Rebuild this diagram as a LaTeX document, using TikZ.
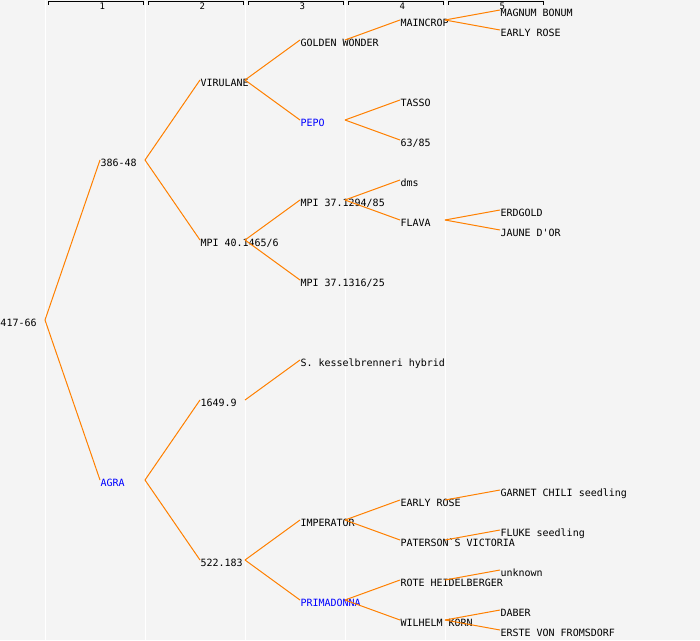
\documentclass[tikz,border=0pt]{standalone}
\usepackage{fontspec}
\newfontfamily\pedfont{DejaVu Sans Mono}
\usepackage{xcolor}
\definecolor{pedbg}{HTML}{F4F4F4}
\definecolor{pedline}{HTML}{FF8000}
\definecolor{pedblue}{HTML}{0000FF}

\begin{document}
\begin{tikzpicture}[x=1pt,y=-1pt,line width=1pt]
			\tikzstyle{cultivar}=[anchor=west,inner sep=0pt,text height=12.5pt,text depth=0.5pt,font=\pedfont\fontsize{10}{10}\selectfont,text=black]
			\tikzstyle{bluecv}=[cultivar,text=pedblue]
			\tikzstyle{gen}=[anchor=base,inner sep=0pt,font=\pedfont\fontsize{9}{9}\selectfont]
			\tikzstyle{cross}=[draw=pedline,line width=1pt]
			% background and column rules
			\fill[pedbg] (0,0) rectangle (700,640);
			\useasboundingbox (0,0) rectangle (700,640);
			\foreach \c in {45,145,245,345,445}
				\draw[white] (\c,0) -- (\c,640);
			% generation header
			\foreach \g in {1,...,5}{
				\draw[line width=0.9pt] (100*\g-52,4.5) -- (100*\g-52,1.5) -- (100*\g+43,1.5) -- (100*\g+43,4.5);
				\node[gen] (g\g) at (100*\g+2.4,9.5) {\g};
			}
			% generation 0 and 1
			\node[cultivar] (n417)       at (0,320)   {417-66};
			\node[cultivar] (n386)       at (100,160) {386-48};
			\node[bluecv]   (agra)       at (100,480) {AGRA};
			% generation 2
			\node[cultivar] (virulane)   at (200,80)  {VIRULANE};
			\node[cultivar] (mpi401465)  at (200,240) {MPI 40.1465/6};
			\node[cultivar] (n16499)     at (200,400) {1649.9};
			\node[cultivar] (n522183)    at (200,560) {522.183};
			% generation 3
			\node[cultivar] (golden)     at (300,40)  {GOLDEN WONDER};
			\node[bluecv]   (pepo)       at (300,120) {PEPO};
			\node[cultivar] (mpi371294)  at (300,200) {MPI 37.1294/85};
			\node[cultivar] (mpi371316)  at (300,280) {MPI 37.1316/25};
			\node[cultivar] (skessel)    at (300,360) {S. kesselbrenneri hybrid};
			\node[cultivar] (imperator)  at (300,520) {IMPERATOR};
			\node[bluecv]   (primadonna) at (300,600) {PRIMADONNA};
			% generation 4
			\node[cultivar] (maincrop)   at (400,20)  {MAINCROP};
			\node[cultivar] (tasso)      at (400,100) {TASSO};
			\node[cultivar] (n6385)      at (400,140) {63/85};
			\node[cultivar] (dms)        at (400,180) {dms};
			\node[cultivar] (flava)      at (400,220) {FLAVA};
			\node[cultivar] (earlyrose)  at (400,500) {EARLY ROSE};
			\node[cultivar] (paterson)   at (400,540) {PATERSON`S VICTORIA};
			\node[cultivar] (rote)       at (400,580) {ROTE HEIDELBERGER};
			\node[cultivar] (wilhelm)    at (400,620) {WILHELM KORN};
			% generation 5
			\node[cultivar] (magnum)     at (500,10)  {MAGNUM BONUM};
			\node[cultivar] (earlyroseb) at (500,30)  {EARLY ROSE};
			\node[cultivar] (erdgold)    at (500,210) {ERDGOLD};
			\node[cultivar] (jaune)      at (500,230) {JAUNE D'OR};
			\node[cultivar] (garnet)     at (500,490) {GARNET CHILI seedling};
			\node[cultivar] (fluke)      at (500,530) {FLUKE seedling};
			\node[cultivar] (unknown)    at (500,570) {unknown};
			\node[cultivar] (daber)      at (500,610) {DABER};
			\node[cultivar] (erste)      at (500,630) {ERSTE VON FROMSDORF};
			\path[cross]
			([xshift=45pt]n417.west)       edge (n386.west)
			([xshift=45pt]n417.west)       edge (agra.west)
			([xshift=45pt]n386.west)       edge (virulane.west)
			([xshift=45pt]n386.west)       edge (mpi401465.west)
			([xshift=45pt]agra.west)       edge (n16499.west)
			([xshift=45pt]agra.west)       edge (n522183.west)
			([xshift=45pt]virulane.west)   edge (golden.west)
			([xshift=45pt]virulane.west)   edge (pepo.west)
			([xshift=45pt]mpi401465.west)  edge (mpi371294.west)
			([xshift=45pt]mpi401465.west)  edge (mpi371316.west)
			([xshift=45pt]n16499.west)     edge (skessel.west)
			([xshift=45pt]n522183.west)    edge (imperator.west)
			([xshift=45pt]n522183.west)    edge (primadonna.west)
			([xshift=45pt]golden.west)     edge (maincrop.west)
			([xshift=45pt]pepo.west)       edge (tasso.west)
			([xshift=45pt]pepo.west)       edge (n6385.west)
			([xshift=45pt]mpi371294.west)  edge (dms.west)
			([xshift=45pt]mpi371294.west)  edge (flava.west)
			([xshift=45pt]imperator.west)  edge (earlyrose.west)
			([xshift=45pt]imperator.west)  edge (paterson.west)
			([xshift=45pt]primadonna.west) edge (rote.west)
			([xshift=45pt]primadonna.west) edge (wilhelm.west)
			([xshift=45pt]maincrop.west)   edge (magnum.west)
			([xshift=45pt]maincrop.west)   edge (earlyroseb.west)
			([xshift=45pt]flava.west)      edge (erdgold.west)
			([xshift=45pt]flava.west)      edge (jaune.west)
			([xshift=45pt]earlyrose.west)  edge (garnet.west)
			([xshift=45pt]paterson.west)   edge (fluke.west)
			([xshift=45pt]rote.west)       edge (unknown.west)
			([xshift=45pt]wilhelm.west)    edge (daber.west)
			([xshift=45pt]wilhelm.west)    edge (erste.west);
		\end{tikzpicture}
\end{document}
